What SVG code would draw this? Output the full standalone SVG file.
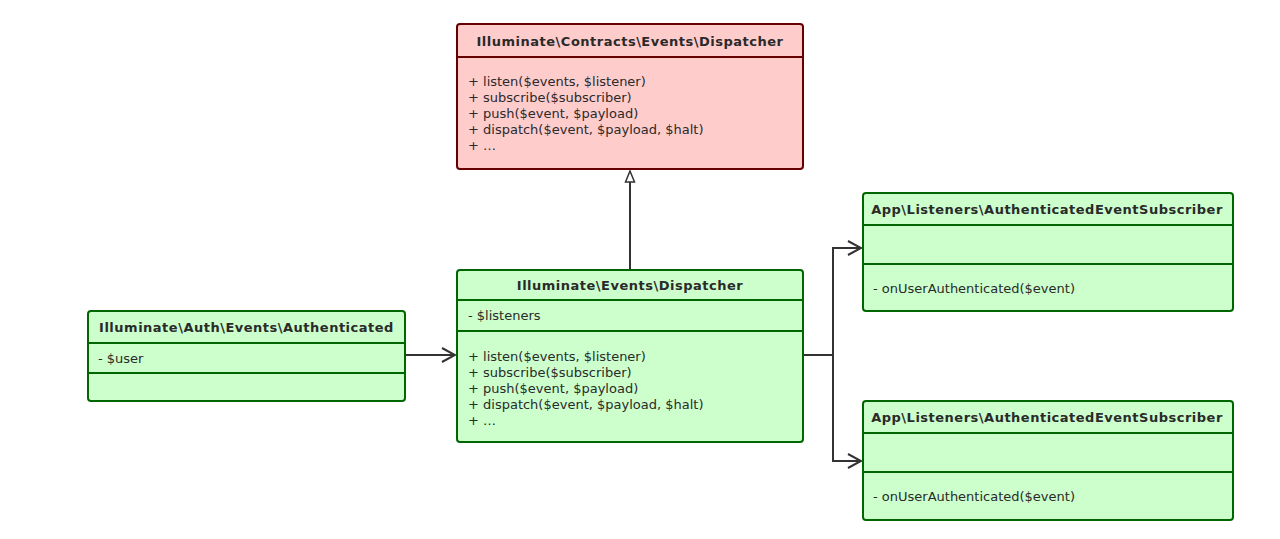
<svg xmlns="http://www.w3.org/2000/svg" width="1280" height="539" viewBox="0 0 1280 539">
<style>
.box{fill:#ccffcc;stroke:#006600;stroke-width:2}
.red{fill:#ffcccc;stroke:#660000;stroke-width:2}
.div{stroke:#006600;stroke-width:2}
.divr{stroke:#660000;stroke-width:2}
.t{font-family:"DejaVu Sans",sans-serif;font-size:13px;font-weight:bold;letter-spacing:0.5px;fill:#2a2a2a;text-anchor:middle}
.m{font-family:"DejaVu Sans",sans-serif;font-size:13px;fill:#2a2a2a}
.c{fill:none;stroke:#333;stroke-width:2}
</style>
<defs>
<marker id="open" markerWidth="16" markerHeight="16" refX="14" refY="8" orient="auto" markerUnits="userSpaceOnUse">
<path d="M1,1 L14,8 L1,15" fill="none" stroke="#333" stroke-width="2"/>
</marker>
<marker id="tri" markerWidth="12" markerHeight="14" refX="6" refY="1" orient="0" markerUnits="userSpaceOnUse">
<path d="M6,1 L10.5,12 L1.5,12 Z" fill="#fff" stroke="#333" stroke-width="1.5"/>
</marker>
</defs>
<rect width="1280" height="539" fill="#fff"/>
<g id="connectors">
<path class="c" d="M630,270 L630,171" marker-end="url(#tri)"/>
<path class="c" d="M405,355 L455,355" marker-end="url(#open)"/>
<path class="c" d="M803,355 L833,355 L833,248 L861,248" marker-end="url(#open)"/>
<path class="c" d="M833,355 L833,461 L861,461" marker-end="url(#open)"/>
</g>
<g id="contract">
<rect class="red" x="457" y="24" width="346" height="145" rx="3"/>
<line class="divr" x1="457" y1="57" x2="803" y2="57"/>
<text class="t" x="630" y="46">Illuminate\Contracts\Events\Dispatcher</text>
<text class="m" x="468" y="86">+ listen($events, $listener)</text>
<text class="m" x="468" y="102">+ subscribe($subscriber)</text>
<text class="m" x="468" y="118">+ push($event, $payload)</text>
<text class="m" x="468" y="134">+ dispatch($event, $payload, $halt)</text>
<text class="m" x="468" y="150">+ …</text>
</g>
<g id="dispatcher">
<rect class="box" x="457" y="270" width="346" height="172" rx="3"/>
<line class="div" x1="457" y1="300" x2="803" y2="300"/>
<line class="div" x1="457" y1="331" x2="803" y2="331"/>
<text class="t" x="630" y="290">Illuminate\Events\Dispatcher</text>
<text class="m" x="468" y="320">- $listeners</text>
<text class="m" x="468" y="361">+ listen($events, $listener)</text>
<text class="m" x="468" y="377">+ subscribe($subscriber)</text>
<text class="m" x="468" y="393">+ push($event, $payload)</text>
<text class="m" x="468" y="409">+ dispatch($event, $payload, $halt)</text>
<text class="m" x="468" y="425">+ …</text>
</g>
<g id="authenticated">
<rect class="box" x="88" y="311" width="317" height="90" rx="3"/>
<line class="div" x1="88" y1="343" x2="405" y2="343"/>
<line class="div" x1="88" y1="373" x2="405" y2="373"/>
<text class="t" x="246.5" y="332">Illuminate\Auth\Events\Authenticated</text>
<text class="m" x="98" y="363">- $user</text>
</g>
<g id="subscriber1">
<rect class="box" x="863" y="193" width="370" height="118" rx="3"/>
<line class="div" x1="863" y1="225" x2="1233" y2="225"/>
<line class="div" x1="863" y1="264" x2="1233" y2="264"/>
<text class="t" x="1047" y="214">App\Listeners\AuthenticatedEventSubscriber</text>
<text class="m" x="873" y="293">- onUserAuthenticated($event)</text>
</g>
<g id="subscriber2">
<rect class="box" x="863" y="401" width="370" height="119" rx="3"/>
<line class="div" x1="863" y1="433" x2="1233" y2="433"/>
<line class="div" x1="863" y1="472" x2="1233" y2="472"/>
<text class="t" x="1047" y="422">App\Listeners\AuthenticatedEventSubscriber</text>
<text class="m" x="873" y="501">- onUserAuthenticated($event)</text>
</g>
</svg>
